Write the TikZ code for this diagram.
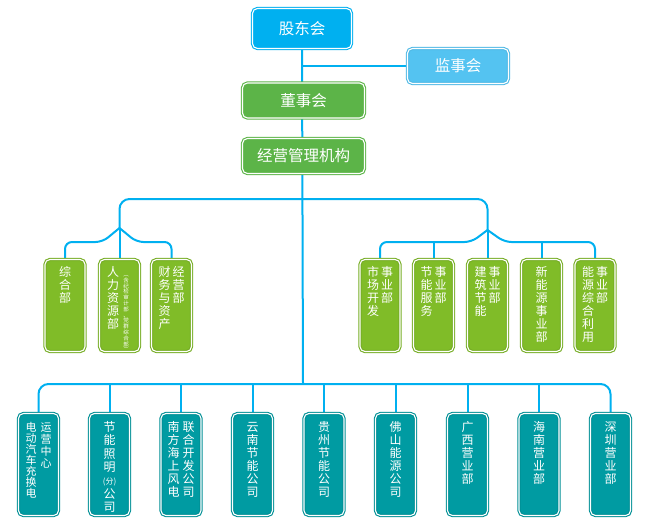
\documentclass[tikz,border=0pt]{standalone}
\usepackage{fontspec}
\setmainfont{Noto Sans CJK SC}
\usetikzlibrary{backgrounds}
\definecolor{linkc}{RGB}{0,176,240}
\definecolor{gudongc}{RGB}{0,176,240}
\definecolor{jianshic}{RGB}{84,195,241}
\definecolor{boardc}{RGB}{92,180,72}
\definecolor{deptc}{RGB}{128,188,40}
\definecolor{branchc}{RGB}{0,155,162}
\makeatletter
\newcommand\vcol[2][13pt]{\vtop{\baselineskip=#1\lineskiplimit=-100pt\lineskip=0pt
  \@tfor\vch:=#2\do{\hbox to 12pt{\hss\vch\hss}}}}
\makeatother
\begin{document}
\begin{tikzpicture}[x=1pt, y=-1pt,
        link/.style = {draw=linkc, line width=2pt},
        box/.style = {rounded corners=5pt, line width=1.1pt, double=white,
            double distance=1.1pt, text=white, inner sep=2pt},
        topbox/.style = {box, minimum height=35pt,
            font=\fontsize{15.5}{18}\selectfont},
        deptbox/.style = {box, fill=deptc, draw=deptc!92!black, minimum width=40pt,
            text height=15pt, text depth=73pt, font=\fontsize{12}{13}\selectfont},
        branchbox/.style = {box, fill=branchc, draw=branchc!92!black, minimum width=40pt,
            text height=16pt, text depth=82pt, font=\fontsize{12}{13}\selectfont}]
    \useasboundingbox (0,0) rectangle (650,528);
    % top
    \node[topbox, fill=gudongc, draw=gudongc, minimum width=99pt, minimum height=40pt] (gudong) at (302,28.5) {股东会};
    \node[topbox, fill=jianshic, draw=jianshic!95!black, minimum width=101pt] (jianshi) at (458,66) {监事会};
    \node[topbox, fill=boardc, draw=boardc, minimum width=122pt] (dongshi) at (303.5,100.5) {董事会};
    \node[topbox, fill=boardc, draw=boardc, minimum width=122pt] (jingying) at (303.5,156) {经营管理机构};
    % departments
    \node[deptbox] (zonghe) at (65,305.5) {\vcol{综合部}};
    \node[deptbox] (renli) at (119.5,305.5) {\vcol{人力资源部}\hspace{1pt}\fontsize{5.5}{6}\selectfont\vcol[5.8pt]{︵含纪检审计部、党群综合部︶}};
    \node[deptbox] (caiwu) at (171.5,305.5) {\vcol{财务与资产}\hspace{2pt}\vcol{经营部}};
    \node[deptbox] (shichang) at (380,305.5) {\vcol{市场开发}\hspace{2pt}\vcol{事业部}};
    \node[deptbox] (jieneng) at (433.5,305.5) {\vcol{节能服务}\hspace{2pt}\vcol{事业部}};
    \node[deptbox] (jianzhu) at (487.5,305.5) {\vcol{建筑节能}\hspace{2pt}\vcol{事业部}};
    \node[deptbox] (xinneng) at (541.5,305.5) {\vcol{新能源事业部}};
    \node[deptbox] (zonghely) at (595,305.5) {\vcol{能源综合利用}\hspace{2pt}\vcol{事业部}};
    % branches
    \node[branchbox] (b1) at (38.5,464.5) {\fontsize{11}{11}\selectfont\vcol[11pt]{电动汽车充换电}\hspace{3pt}\vcol[12pt]{运营中心}};
    \node[branchbox] (b2) at (109.5,464.5) {\vcol[13.3pt]{节能照明{\fontsize{8}{8}\selectfont(分)}公司}};
    \node[branchbox] (b3) at (181,464.5) {\vcol{南方海上风电}\hspace{3pt}\vcol{联合开发公司}};
    \node[branchbox] (b4) at (252.5,464.5) {\vcol{云南节能公司}};
    \node[branchbox] (b5) at (324,464.5) {\vcol{贵州节能公司}};
    \node[branchbox] (b6) at (395.5,464.5) {\vcol{佛山能源公司}};
    \node[branchbox] (b7) at (467.5,464.5) {\vcol{广西营业部}};
    \node[branchbox] (b8) at (539,464.5) {\vcol{海南营业部}};
    \node[branchbox] (b9) at (610.5,464.5) {\vcol{深圳营业部}};
    \coordinate (midbus) at (303,199);
    \coordinate (botbus) at (303,384);
    \coordinate (lsplit) at (119.5,228);
    \coordinate (rsplit) at (487.5,230);
    \coordinate (rbar) at (487.5,242);
    \begin{scope}[on background layer]
        \draw[link] (gudong.south) -- (botbus);
        \draw[link] (gudong.south |- jianshi.west) -- (jianshi.west);
        % left group
        \draw[link, rounded corners=10pt] (midbus) -| (lsplit);
        \draw[link] (lsplit) -- (renli.north);
        \draw[link, rounded corners=7pt] (lsplit) -- ++(-17,14) -| (zonghe.north);
        \draw[link, rounded corners=7pt] (lsplit) -- ++(17,14) -| (caiwu.north);
        % right group
        \draw[link, rounded corners=10pt] (midbus) -| (rsplit);
        \draw[link] (rsplit) -- (jianzhu.north);
        \draw[link, rounded corners=7pt] (rsplit) -- ++(-16,12) -| (shichang.north);
        \draw[link, rounded corners=7pt] (rsplit) -- ++(17,12) -| (zonghely.north);
        \draw[link] (jieneng.north) -- (jieneng.north |- rbar);
        \draw[link] (xinneng.north) -- (xinneng.north |- rbar);
        % bottom row
        \draw[link, rounded corners=10pt] (b1.north) |- (botbus) -| (b9.north);
        \foreach \i in {2,...,8}
            \draw[link] (b\i.north) -- (b\i.north |- botbus);
    \end{scope}
\end{tikzpicture}
\end{document}
